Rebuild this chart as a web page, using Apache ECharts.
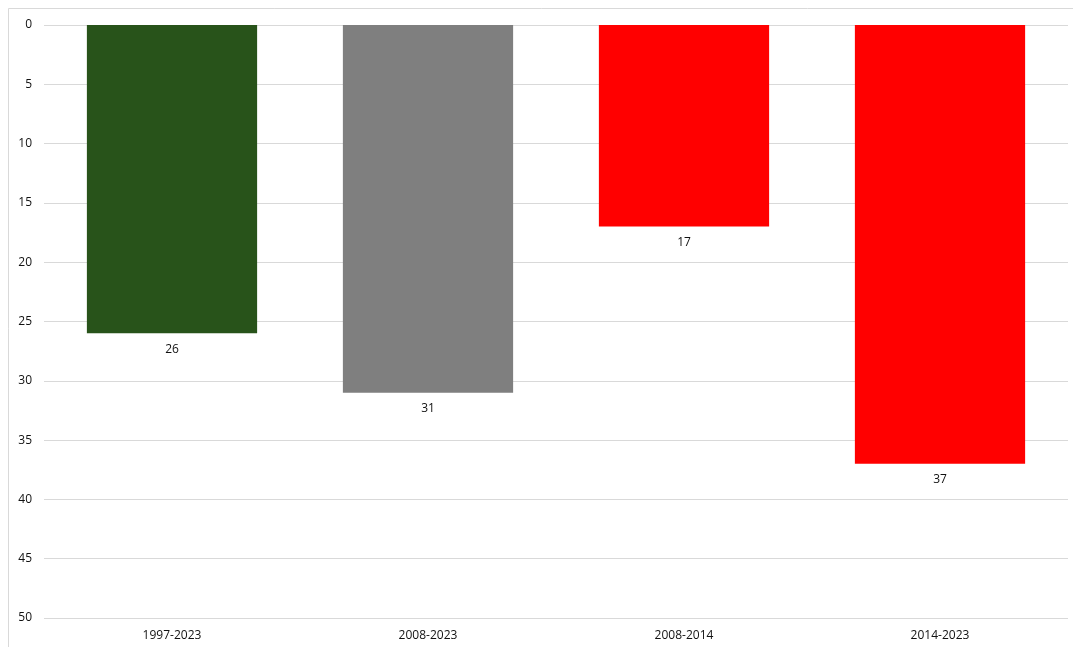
<!DOCTYPE html>
<html>
<head>
<meta charset="utf-8">
<script src="https://cdn.jsdelivr.net/npm/echarts@6/dist/echarts.min.js"></script>
<style>
  html, body { margin: 0; padding: 0; background: #fff; }
  #chart { width: 1073px; height: 647px; }
</style>
</head>
<body>
<div id="chart"></div>
<script>
// Periods and their values
const categories = ['1997-2023', '2008-2023', '2008-2014', '2014-2023'];
const values = [26, 31, 17, 37];
const barColors = ['#28531A', '#7F7F7F', '#FF0000', '#FF0000'];

const chart = echarts.init(document.getElementById('chart'));
const font = 'Open Sans, Noto Sans, sans-serif';

chart.setOption({
  backgroundColor: '#fff',
  animation: false,
  graphic: [{
    type: 'polyline',
    shape: { points: [[8.5, 660], [8.5, 8.5], [1080, 8.5]] },
    style: { stroke: '#D9D9D9', lineWidth: 1, fill: null },
    silent: true
  }],
  grid: { left: 44, right: 5, top: 25, bottom: 29, containLabel: false },
  xAxis: {
    type: 'category',
    data: categories,
    position: 'bottom',
    axisLine: { show: false },
    axisTick: { show: false },
    axisLabel: { color: '#111', fontSize: 12, fontFamily: font, margin: 12 }
  },
  yAxis: {
    type: 'value',
    inverse: true,
    min: 0,
    max: 50,
    interval: 5,
    axisLine: { show: false },
    axisTick: { show: false },
    axisLabel: { color: '#111', fontSize: 12, fontFamily: font, margin: 12 },
    splitLine: { lineStyle: { color: '#D9D9D9', width: 1 } }
  },
  series: [{
    type: 'bar',
    barWidth: '66.5%',
    data: values.map((v, i) => ({ value: v, itemStyle: { color: barColors[i] } })),
    label: {
      show: true,
      position: 'bottom',
      distance: 10,
      color: '#111',
      fontSize: 12,
      fontFamily: font
    }
  }]
});
</script>
</body>
</html>
